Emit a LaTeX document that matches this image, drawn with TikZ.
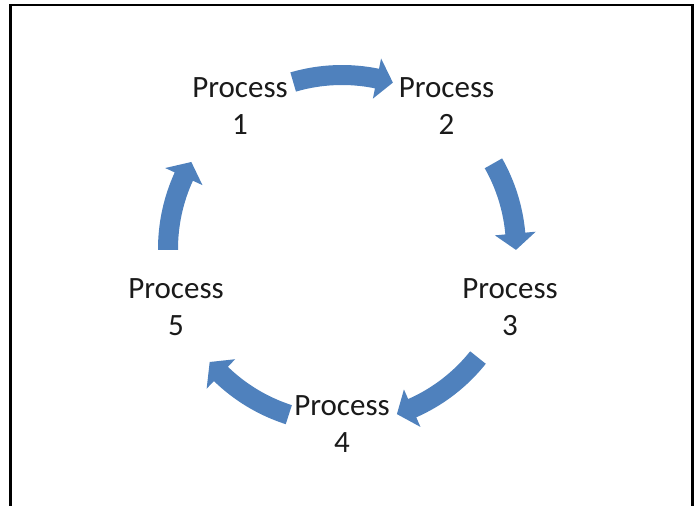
\documentclass[tikz,border=0pt]{standalone}
\usepackage{fontspec}
\setmainfont{Carlito}
\definecolor{cycleblue}{HTML}{4F81BD}
\definecolor{textgray}{HTML}{1A1A1A}
\tikzset{
  proc/.style={align=center, inner sep=0pt, text=textgray,
    font=\fontsize{31}{37}\selectfont},
  arrowfill/.style={fill=cycleblue},
  frameline/.style={draw=black, line width=2.3pt}
}
% block arc arrow on the cycle: #1 = tail angle, #2 = tip angle (clockwise)
\newcommand\cyclearrow[2]{%
  \pgfmathsetmacro\headat{#2+5.4}%
  \fill[arrowfill] (#1:184pt) arc[start angle=#1, end angle=\headat, radius=184pt]
    -- (\headat:194.5pt) -- (#2:174pt) -- (\headat:153.5pt) -- (\headat:164pt)
    arc[start angle=\headat, end angle=#1, radius=164pt] -- cycle;}
\begin{document}
\begin{tikzpicture}[x=1pt, y=1pt]
  \useasboundingbox (0,0) rectangle (697,506);
  % open frame: left, top and right sides
  \draw[frameline] (10.5,-2) -- (10.5,501) -- (692.5,501) -- (692.5,-2);

  \node[proc] (p1) at (240,400) {Process\\1};
  \node[proc] (p2) at (446.5,400) {Process\\2};
  \node[proc] (p3) at (510,199) {Process\\3};
  \node[proc] (p4) at (342,82) {Process\\4};
  \node[proc] (p5) at (176,199) {Process\\5};

  \coordinate (hub) at (342,257);
  \begin{scope}[shift={(hub)}]
    \cyclearrow{106.3}{73}
    \cyclearrow{29.5}{-0.3}
    \cyclearrow{-38.6}{-71.6}
    \cyclearrow{252.2}{220.5}
    \cyclearrow{180.3}{150}
  \end{scope}
\end{tikzpicture}
\end{document}
